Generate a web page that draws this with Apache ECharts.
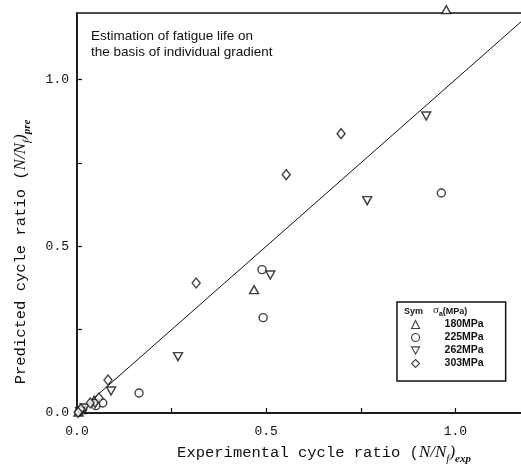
<!DOCTYPE html>
<html>
<head>
<meta charset="utf-8">
<script src="https://cdn.jsdelivr.net/npm/echarts@6/dist/echarts.min.js"></script>
<style>
  html, body { margin: 0; padding: 0; background: #fff; overflow: hidden; }
  #chart { width: 521px; height: 468px; }
</style>
</head>
<body>
<div id="chart"></div>
<script>
// chart values: [experimental, predicted]
const seriesNames = ['180MPa', '225MPa', '262MPa', '303MPa'];
const s180 = [[0.976, 1.21], [0.468, 0.37], [0.045, 0.038], [0.012, 0.01], [0.004, 0.003]];
const s225 = [[0.963, 0.66], [0.489, 0.43], [0.492, 0.286], [0.164, 0.06], [0.068, 0.03],
              [0.05, 0.022], [0.015, 0.012], [0.006, 0.004]];
const s262 = [[0.923, 0.891], [0.767, 0.637], [0.511, 0.414], [0.267, 0.169], [0.09, 0.066],
              [0.048, 0.028], [0.02, 0.015], [0.008, 0.005]];
const s303 = [[0.698, 0.838], [0.553, 0.715], [0.315, 0.39], [0.082, 0.099], [0.058, 0.045],
              [0.035, 0.03], [0.01, 0.012], [0.003, 0.002]];
const diagonal = [[0, 0], [1.3, 1.3]];
const tickValues = [0, 0.5, 1.0];
const minorValues = [0, 0.25, 0.5, 0.75, 1.0];

const mono = '"Liberation Mono", "DejaVu Sans Mono", monospace';
const serif = '"Liberation Serif", "DejaVu Serif", serif';
const sans = '"Liberation Sans", Arial, sans-serif';

const nameRich = {
    m: { fontFamily: mono, fontSize: 15.5, color: '#111', verticalAlign: 'bottom', padding: [0, 0, 4, 0] },
    i: { fontFamily: serif, fontStyle: 'italic', fontSize: 17, color: '#111', verticalAlign: 'bottom', padding: [0, 0, 4, 0] },
    s: { fontFamily: serif, fontStyle: 'italic', fontSize: 11, color: '#111', verticalAlign: 'bottom' },
    e: { fontFamily: serif, fontStyle: 'italic', fontWeight: 'bold', fontSize: 11, color: '#111', verticalAlign: 'bottom' }
};

const markStyle = { color: '#fff', borderColor: '#111', borderWidth: 1.4 };

const makeAxis = (name, extra) => Object.assign({
    type: 'value',
    min: 0,
    max: 1.2,
    interval: 0.5,
    name: name,
    nameLocation: 'middle',
    splitLine: { show: false },
    axisLine: { lineStyle: { color: '#111', width: 1.5 } },
    axisTick: { inside: true, length: 5, customValues: minorValues, lineStyle: { color: '#111', width: 1.2 } }
}, extra);

const chart = echarts.init(document.getElementById('chart'));

chart.setOption({
    animation: false,
    backgroundColor: '#fff',
    // plot runs a little past the right edge of the picture, as in the scan
    grid: {
        left: 77, top: 13, width: 454, height: 400,
        outerBoundsMode: 'none',
        show: true, borderColor: '#111', borderWidth: 1.5
    },
    xAxis: makeAxis('{m|Experimental cycle ratio (}{i|N/N}{s|f}{i|)}{e|exp}', {
        nameGap: 31,
        nameTextStyle: { rich: nameRich, padding: [0, 0, 0, 40] },
        axisLabel: {
            customValues: tickValues, fontFamily: mono, fontSize: 13, color: '#111', margin: 12,
            formatter: v => v.toFixed(1)
        }
    }),
    yAxis: makeAxis('{m|Predicted cycle ratio (}{i|N/N}{s|f}{i|)}{e|pre}', {
        nameGap: 44,
        nameTextStyle: { rich: nameRich, padding: [0, 78, 0, 0] },
        axisLabel: {
            customValues: tickValues, fontFamily: mono, fontSize: 13, color: '#111', margin: 8,
            formatter: v => v.toFixed(1)
        }
    }),
    legend: {
        data: seriesNames,
        orient: 'vertical',
        left: 397,
        top: 302,
        padding: [17, 22, 12, 14],
        itemGap: 2,
        itemWidth: 8,
        itemHeight: 8,
        borderColor: '#111',
        borderWidth: 1.5,
        backgroundColor: '#fff',
        itemStyle: { borderWidth: 1.1 },
        formatter: n => '{t|' + n + '}',
        textStyle: {
            rich: {
                t: { fontFamily: sans, fontWeight: 'bold', fontSize: 10.5, color: '#111', padding: [0, 0, 0, 20] }
            }
        }
    },
    graphic: [
        {
            type: 'text',
            left: 91,
            top: 28,
            z: 10,
            style: {
                text: 'Estimation of fatigue life on\nthe basis of individual gradient',
                fontFamily: sans,
                fontSize: 13.5,
                lineHeight: 16,
                fill: '#111'
            }
        },
        {
            type: 'text',
            left: 404,
            top: 305,
            z: 10,
            style: {
                text: '{b|Sym}   {g|σ}{u|a}{b|(MPa)}',
                rich: {
                    b: { fontFamily: sans, fontWeight: 'bold', fontSize: 9, fill: '#111', verticalAlign: 'bottom', padding: [0, 0, 2, 0] },
                    g: { fontFamily: serif, fontSize: 11, fill: '#111', verticalAlign: 'bottom', padding: [0, 0, 2, 0] },
                    u: { fontFamily: sans, fontWeight: 'bold', fontSize: 7, fill: '#111', verticalAlign: 'bottom' }
                }
            }
        }
    ],
    series: [
        {
            type: 'line',
            data: diagonal,
            showSymbol: false,
            silent: true,
            lineStyle: { color: '#111', width: 1 },
            z: 1
        },
        {
            name: seriesNames[0], type: 'scatter', data: s180, clip: false,
            symbol: 'triangle', symbolSize: [9, 8], itemStyle: markStyle, z: 3
        },
        {
            name: seriesNames[1], type: 'scatter', data: s225,
            symbol: 'circle', symbolSize: 8, itemStyle: markStyle, z: 3
        },
        {
            name: seriesNames[2], type: 'scatter', data: s262,
            symbol: 'path://M0,0L10,0L5,9Z', symbolSize: [9, 8], itemStyle: markStyle, z: 3
        },
        {
            name: seriesNames[3], type: 'scatter', data: s303,
            symbol: 'diamond', symbolSize: [8, 10], itemStyle: markStyle, z: 3
        }
    ]
});
</script>
</body>
</html>
